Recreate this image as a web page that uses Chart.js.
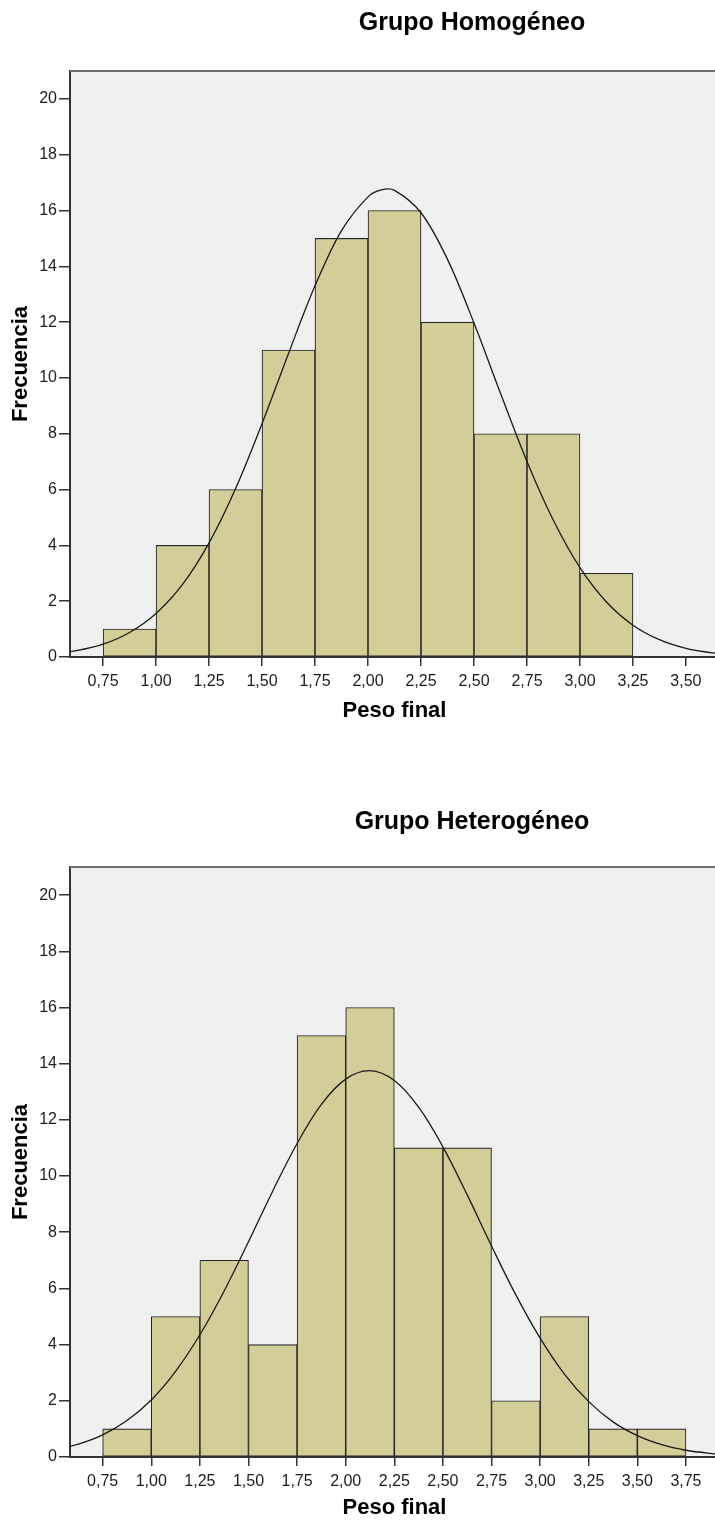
<!DOCTYPE html>
<html>
<head>
<meta charset="utf-8">
<title>Peso final – histogramas</title>
<script src="https://cdn.jsdelivr.net/npm/chart.js@4.4.1/dist/chart.umd.min.js"></script>
<style>
  html, body { margin: 0; padding: 0; background: #ffffff; }
  #page { position: relative; width: 715px; height: 1521px; overflow: hidden; }
  .panel { position: absolute; left: 0; }
  canvas { display: block; }
</style>
</head>
<body>
<div id="page">
  <div class="panel" style="top:0px"><canvas id="homo" width="945" height="740"></canvas></div>
  <div class="panel" style="top:796px"><canvas id="hetero" width="945" height="725"></canvas></div>
</div>
<script>
// ---- Grupo Homogéneo ----
const homoTitle = 'Grupo Homogéneo';
const homoBinEdges = [0.75, 1.00, 1.25, 1.50, 1.75, 2.00, 2.25, 2.50, 2.75, 3.00, 3.25];
const homoCounts = [1, 4, 6, 11, 15, 16, 12, 8, 8, 3];
const homoCurveX = [0.5, 0.625, 0.75, 0.875, 1.0, 1.125, 1.25, 1.375, 1.5, 1.625, 1.75, 1.875, 2.0, 2.0625, 2.125,
                    2.25, 2.375, 2.5, 2.625, 2.75, 2.875, 3.0, 3.125, 3.25, 3.375, 3.5, 3.625, 3.75];
const homoCurveY = [0.11, 0.23, 0.46, 0.88, 1.56, 2.60, 4.09, 6.03, 8.36, 10.88, 13.30, 15.28, 16.49, 16.74, 16.72,
                    15.92, 14.25, 11.97, 9.45, 7.01, 4.89, 3.20, 1.97, 1.14, 0.62, 0.31, 0.15, 0.07];
const homoXTicks = [0.75, 1.00, 1.25, 1.50, 1.75, 2.00, 2.25, 2.50, 2.75, 3.00, 3.25, 3.50];

// ---- Grupo Heterogéneo ----
const heteroTitle = 'Grupo Heterogéneo';
const heteroBinEdges = [0.75, 1.00, 1.25, 1.50, 1.75, 2.00, 2.25, 2.50, 2.75, 3.00, 3.25, 3.50, 3.75];
const heteroCounts = [1, 5, 7, 4, 15, 16, 11, 11, 2, 5, 1, 1];
const heteroCurveX = [0.5, 0.625, 0.75, 0.875, 1.0, 1.125, 1.25, 1.375, 1.5, 1.625, 1.75, 1.875, 2.0, 2.125,
                      2.25, 2.375, 2.5, 2.625, 2.75, 2.875, 3.0, 3.125, 3.25, 3.375, 3.5, 3.625, 3.75, 3.875, 4.0];
const heteroCurveY = [0.25, 0.46, 0.79, 1.30, 2.03, 3.05, 4.35, 5.91, 7.66, 9.47, 11.16, 12.55, 13.45, 13.75,
                      13.40, 12.45, 11.04, 9.33, 7.51, 5.77, 4.23, 2.95, 1.97, 1.25, 0.76, 0.44, 0.24, 0.13, 0.06];
const heteroXTicks = [0.75, 1.00, 1.25, 1.50, 1.75, 2.00, 2.25, 2.50, 2.75, 3.00, 3.25, 3.50, 3.75];

// ---- shared axis labels ----
const yTicks = [0, 2, 4, 6, 8, 10, 12, 14, 16, 18, 20];
const xAxisLabel = 'Peso final';
const yAxisLabel = 'Frecuencia';

const FONT = '"Liberation Sans", Arial, Helvetica, sans-serif';
const AXIS_COLOR = '#333333';
const TEXT_COLOR = '#1c1c1c';

// light grey plotting area with a grey top edge
const plotFrame = {
  id: 'plotFrame',
  beforeDraw(chart) {
    const { ctx, chartArea: a } = chart;
    ctx.save();
    ctx.fillStyle = '#f0f0f0';
    ctx.fillRect(a.left, a.top, a.right - a.left, a.bottom - a.top);
    ctx.restore();
  },
  afterDatasetsDraw(chart) {
    const { ctx, chartArea: a } = chart;
    ctx.save();
    ctx.strokeStyle = '#6f6f6f';
    ctx.lineWidth = 2;
    ctx.beginPath();
    ctx.moveTo(a.left, a.top);
    ctx.lineTo(a.right, a.top);
    ctx.lineTo(a.right, a.bottom);
    ctx.stroke();
    ctx.restore();
  }
};

// chart heading, centred over the full chart frame
const heading = {
  id: 'heading',
  afterDraw(chart, args, opts) {
    const { ctx } = chart;
    ctx.save();
    ctx.fillStyle = '#000000';
    ctx.font = 'bold 25px ' + FONT;
    ctx.textAlign = 'center';
    ctx.textBaseline = 'middle';
    ctx.fillText(opts.text, opts.x, opts.y);
    ctx.restore();
  }
};

const fmtComma = v => Number(v).toFixed(2).replace('.', ',');

function histogram(canvasId, o) {
  const bars = o.counts.map((c, i) => ({ x: (o.edges[i] + o.edges[i + 1]) / 2, y: c }));
  const curve = o.curveX.map((x, i) => ({ x: x, y: o.curveY[i] }));
  return new Chart(document.getElementById(canvasId), {
    type: 'bar',
    data: {
      datasets: [
        {
          type: 'line',
          data: curve,
          borderColor: '#1a1a1a',
          borderWidth: 1.3,
          pointRadius: 0,
          tension: 0.35,
          fill: false,
          order: 0
        },
        {
          type: 'bar',
          data: bars,
          backgroundColor: '#d3ce97',
          borderColor: '#262626',
          borderWidth: 1.1,
          borderSkipped: false,
          barPercentage: 1,
          categoryPercentage: 1,
          order: 1
        }
      ]
    },
    options: {
      responsive: false,
      animation: false,
      events: [],
      layout: { padding: { left: 0, right: 226, top: 71, bottom: 0 } },
      plugins: {
        legend: { display: false },
        tooltip: { enabled: false },
        title: { display: false },
        heading: { text: o.title, x: 472, y: o.titleY }
      },
      scales: {
        x: {
          type: 'linear',
          min: o.xMin,
          max: o.xMax,
          offset: false,
          grid: { offset: false, drawOnChartArea: false, drawTicks: true, tickLength: 9, color: AXIS_COLOR, lineWidth: 1.5 },
          border: { display: true, color: AXIS_COLOR, width: 2 },
          ticks: {
            color: TEXT_COLOR,
            font: { family: FONT, size: 16 },
            padding: 6,
            maxRotation: 0,
            autoSkip: false,
            callback: v => fmtComma(v)
          },
          title: {
            display: true,
            text: xAxisLabel,
            color: '#000000',
            font: { family: FONT, size: 22, weight: 'bold' },
            padding: { top: 0, bottom: o.xTitleBottom }
          },
          afterBuildTicks: s => { s.ticks = o.xTicks.map(v => ({ value: v })); },
          afterFit: s => { s.height = o.xAxisHeight; }
        },
        y: {
          type: 'linear',
          min: 0,
          max: 21,
          grid: { drawOnChartArea: false, drawTicks: true, tickLength: 11, color: AXIS_COLOR, lineWidth: 1.5 },
          border: { display: true, color: AXIS_COLOR, width: 2 },
          ticks: {
            color: TEXT_COLOR,
            font: { family: FONT, size: 16 },
            padding: 2,
            autoSkip: false,
            callback: v => String(v)
          },
          title: {
            display: true,
            text: yAxisLabel,
            color: '#000000',
            font: { family: FONT, size: 22, weight: 'bold' },
            padding: { top: 7.8, bottom: 0 }
          },
          afterBuildTicks: s => { s.ticks = yTicks.map(v => ({ value: v })); },
          afterFit: s => { s.width = 70; }
        }
      }
    },
    plugins: [plotFrame, heading]
  });
}

histogram('homo', {
  title: homoTitle,
  edges: homoBinEdges,
  counts: homoCounts,
  curveX: homoCurveX,
  curveY: homoCurveY,
  xTicks: homoXTicks,
  xMin: 0.594,
  xMax: 3.656,
  titleY: 23,
  xAxisHeight: 83,
  xTitleBottom: 16
});

histogram('hetero', {
  title: heteroTitle,
  edges: heteroBinEdges,
  counts: heteroCounts,
  curveX: heteroCurveX,
  curveY: heteroCurveY,
  xTicks: heteroXTicks,
  xMin: 0.582,
  xMax: 3.920,
  titleY: 26,
  xAxisHeight: 64,
  xTitleBottom: 0
});
</script>
</body>
</html>
